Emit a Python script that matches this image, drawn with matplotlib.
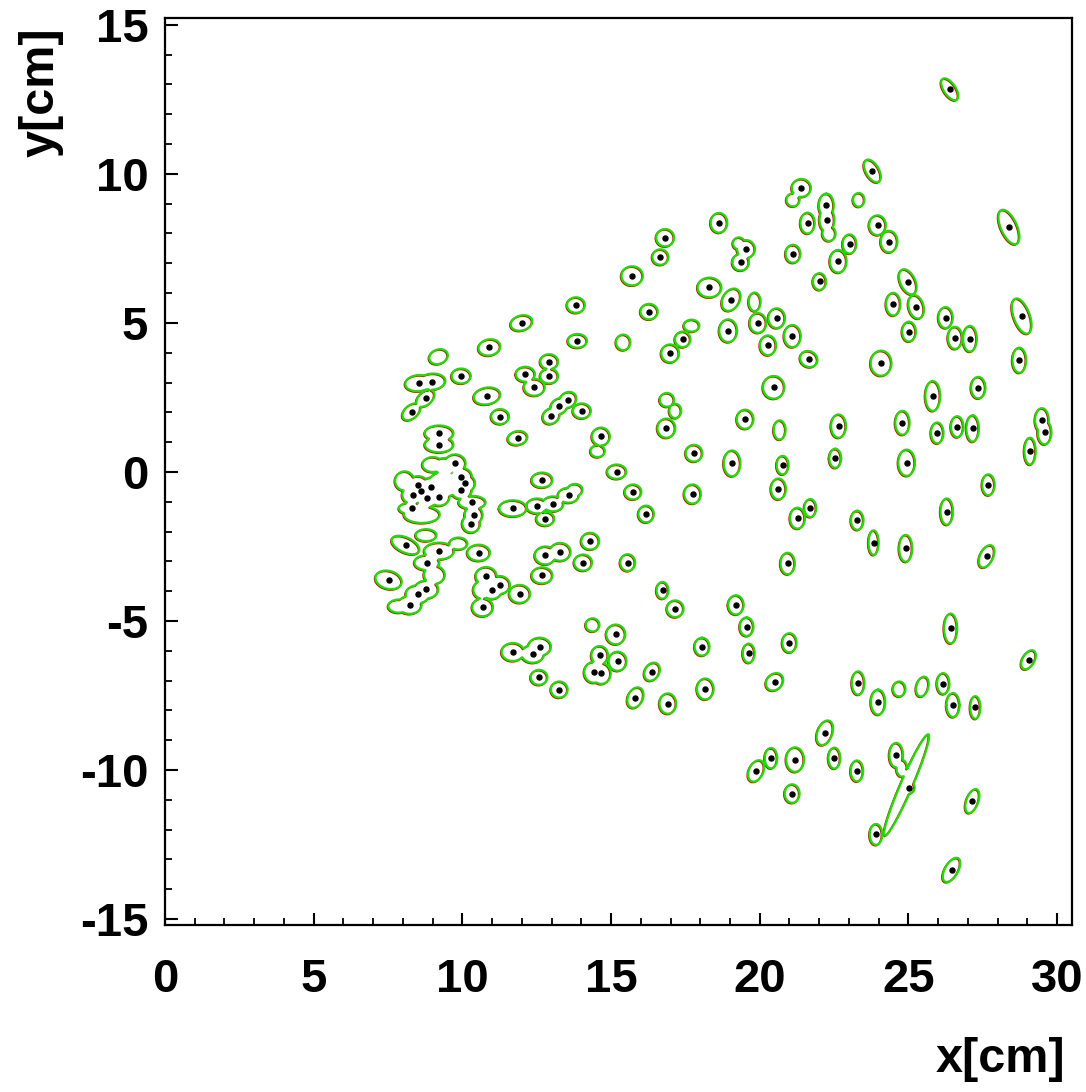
import numpy as np
import matplotlib
matplotlib.use("Agg")
import matplotlib.pyplot as plt
from matplotlib.ticker import MultipleLocator

# reconstructed cluster centres (black dots), in cm
dot_x = [26.39, 23.79, 21.40, 22.24, 22.26, 21.61, 23.96, 24.35, 19.54, 19.36,
         23.02, 21.12, 22.64, 28.38, 22.01, 24.98, 25.26, 24.49, 19.04, 18.94,
         19.94, 20.57, 21.10, 20.28, 26.25, 26.57, 27.07, 25.02, 28.81, 18.63,
         16.82, 16.66, 15.71, 18.31, 13.82, 16.28, 11.99, 13.87, 17.41, 10.91,
         9.96, 8.53, 8.98, 8.76, 8.29, 10.83, 11.27, 11.86, 9.22, 9.22,
         12.12, 12.92, 12.92, 12.42, 13.55, 13.26, 12.99, 14.02, 16.99, 16.86,
         14.66, 17.79, 15.19, 15.74, 16.18, 17.74, 12.68, 9.76, 9.97, 10.08,
         9.97, 8.51, 8.95, 8.62, 8.33, 8.81, 9.22, 10.33, 10.38, 10.30,
         8.29, 11.70, 12.51, 13.05, 13.57, 12.79, 14.30, 12.79, 13.29, 14.06,
         15.56, 12.68, 8.09, 9.22, 8.81, 10.55, 7.52, 8.79, 8.50, 8.23,
         10.80, 11.25, 10.99, 10.68, 11.93, 16.73, 17.16, 21.65, 24.08, 28.73,
         20.47, 25.82, 27.35, 19.51, 22.65, 24.80, 25.97, 26.64, 27.16, 29.49,
         29.58, 29.09, 19.07, 20.77, 22.54, 24.94, 20.63, 27.69, 21.27, 21.70,
         23.28, 26.29, 23.83, 24.91, 27.63, 20.94, 19.20, 19.56, 26.42, 15.16,
         18.06, 11.70, 12.37, 12.60, 12.58, 13.26, 14.62, 15.22, 14.42, 14.67,
         16.38, 15.82, 16.91, 18.17, 21.00, 19.63, 29.04, 20.50, 23.31, 23.98,
         26.17, 26.50, 27.25, 22.19, 20.38, 19.88, 21.19, 22.51, 23.27, 21.09,
         24.59, 25.01, 23.91, 27.15, 26.45]
dot_y = [12.84, 10.10, 9.53, 8.94, 8.46, 8.35, 8.28, 7.73, 7.48, 7.04,
         7.65, 7.32, 7.07, 8.22, 6.39, 6.38, 5.54, 5.63, 5.78, 4.74,
         5.00, 5.16, 4.56, 4.25, 5.18, 4.50, 4.47, 4.71, 5.23, 8.36,
         7.86, 7.21, 6.58, 6.19, 5.60, 5.38, 5.00, 4.40, 4.45, 4.18,
         3.22, 2.98, 3.03, 2.47, 2.02, 2.55, 1.86, 1.14, 1.30, 0.92,
         3.28, 3.70, 3.22, 2.84, 2.42, 2.21, 1.88, 2.05, 3.98, 1.47,
         1.19, 0.63, 0.01, -0.67, -1.41, -0.74, -0.27, 0.29, -0.16, -0.38,
         -0.60, -0.44, -0.49, -0.63, -0.77, -0.88, -0.83, -1.02, -1.44, -1.73,
         -1.22, -1.22, -1.14, -1.07, -0.78, -1.57, -2.32, -2.80, -2.68, -3.04,
         -3.04, -3.47, -2.45, -2.65, -3.04, -2.71, -3.62, -3.94, -4.10, -4.46,
         -3.49, -3.79, -3.96, -4.54, -4.09, -3.97, -4.59, 3.79, 3.65, 3.75,
         2.84, 2.55, 2.83, 1.77, 1.54, 1.65, 1.31, 1.52, 1.46, 1.74,
         1.33, 0.70, 0.29, 0.23, 0.46, 0.31, -0.57, -0.43, -1.55, -1.21,
         -1.62, -1.33, -2.37, -2.56, -2.83, -3.07, -4.46, -5.19, -5.25, -5.45,
         -5.86, -6.04, -6.10, -5.86, -6.89, -7.30, -6.15, -6.35, -6.72, -6.76,
         -6.70, -7.57, -7.77, -7.28, -5.73, -6.08, -6.30, -7.04, -7.08, -7.72,
         -7.10, -7.82, -7.90, -8.75, -9.60, -10.03, -9.65, -9.60, -10.03, -10.79,
         -9.50, -10.59, -12.16, -11.04, -13.35]
# cluster outline around each dot: semi axes (cm) and tilt (deg)
dot_rx = [0.42, 0.42, 0.32, 0.25, 0.25, 0.24, 0.28, 0.28, 0.30, 0.28,
          0.23, 0.25, 0.28, 0.62, 0.22, 0.45, 0.40, 0.24, 0.40, 0.30,
          0.28, 0.28, 0.28, 0.27, 0.24, 0.24, 0.23, 0.23, 0.62, 0.28,
          0.30, 0.27, 0.36, 0.40, 0.30, 0.29, 0.37, 0.32, 0.26, 0.37,
          0.32, 0.45, 0.45, 0.35, 0.35, 0.45, 0.30, 0.33, 0.48, 0.48,
          0.32, 0.30, 0.30, 0.35, 0.30, 0.30, 0.30, 0.30, 0.30, 0.30,
          0.30, 0.28, 0.32, 0.28, 0.26, 0.28, 0.35, 0.35, 0.35, 0.35,
          0.35, 0.35, 0.35, 0.35, 0.35, 0.35, 0.35, 0.45, 0.30, 0.30,
          0.42, 0.46, 0.35, 0.35, 0.35, 0.30, 0.30, 0.35, 0.35, 0.30,
          0.25, 0.35, 0.50, 0.50, 0.42, 0.38, 0.45, 0.40, 0.40, 0.40,
          0.35, 0.35, 0.35, 0.35, 0.35, 0.20, 0.28, 0.30, 0.35, 0.23,
          0.36, 0.25, 0.24, 0.28, 0.25, 0.24, 0.21, 0.21, 0.21, 0.23,
          0.23, 0.19, 0.28, 0.20, 0.20, 0.28, 0.25, 0.21, 0.25, 0.20,
          0.21, 0.21, 0.17, 0.22, 0.40, 0.24, 0.26, 0.23, 0.22, 0.32,
          0.25, 0.38, 0.38, 0.38, 0.28, 0.28, 0.28, 0.30, 0.32, 0.32,
          0.32, 0.36, 0.28, 0.28, 0.24, 0.20, 0.35, 0.32, 0.21, 0.24,
          0.21, 0.22, 0.17, 0.43, 0.21, 0.38, 0.30, 0.20, 0.21, 0.25,
          0.23, 0.20, 0.21, 0.42, 0.45]
dot_ry = [0.20, 0.22, 0.30, 0.40, 0.40, 0.35, 0.33, 0.36, 0.30, 0.28,
          0.32, 0.30, 0.38, 0.27, 0.28, 0.25, 0.25, 0.38, 0.28, 0.38,
          0.33, 0.33, 0.37, 0.33, 0.35, 0.37, 0.43, 0.33, 0.27, 0.33,
          0.29, 0.26, 0.32, 0.33, 0.26, 0.26, 0.25, 0.23, 0.26, 0.27,
          0.25, 0.27, 0.27, 0.22, 0.22, 0.28, 0.25, 0.23, 0.26, 0.26,
          0.25, 0.25, 0.25, 0.28, 0.25, 0.25, 0.25, 0.25, 0.30, 0.32,
          0.30, 0.28, 0.24, 0.25, 0.28, 0.32, 0.25, 0.30, 0.30, 0.30,
          0.30, 0.30, 0.30, 0.30, 0.30, 0.30, 0.30, 0.22, 0.30, 0.30,
          0.20, 0.27, 0.25, 0.25, 0.25, 0.23, 0.28, 0.30, 0.30, 0.27,
          0.28, 0.27, 0.25, 0.28, 0.25, 0.27, 0.30, 0.30, 0.30, 0.30,
          0.30, 0.30, 0.30, 0.30, 0.30, 0.28, 0.28, 0.26, 0.42, 0.42,
          0.38, 0.50, 0.36, 0.32, 0.39, 0.40, 0.35, 0.35, 0.44, 0.40,
          0.40, 0.45, 0.43, 0.31, 0.32, 0.44, 0.35, 0.35, 0.35, 0.30,
          0.32, 0.44, 0.41, 0.45, 0.22, 0.36, 0.32, 0.31, 0.50, 0.33,
          0.30, 0.30, 0.30, 0.30, 0.25, 0.27, 0.31, 0.32, 0.35, 0.35,
          0.24, 0.25, 0.34, 0.35, 0.32, 0.32, 0.20, 0.26, 0.39, 0.42,
          0.35, 0.40, 0.38, 0.25, 0.34, 0.24, 0.41, 0.35, 0.35, 0.31,
          0.41, 0.20, 0.35, 0.20, 0.22]
dot_tilt = [-56, -60, 0, 0, 0, 0, 0, 0, 0, 0,
            0, 0, 0, -66, 0, -65, -75, 0, 60, 0,
            0, 0, 0, 0, 0, 0, 0, 0, -70, 0,
            0, 0, 0, 0, 0, 0, 15, 0, 0, 10,
            0, 5, 5, 40, 40, 10, 0, 10, 0, 0,
            0, 0, 0, 0, 35, 35, 35, 0, 0, 0,
            0, 0, 0, 0, 0, 0, 0, 0, 0, 0,
            0, 0, 0, 0, 0, 0, 0, 0, 0, 0,
            0, 0, 0, 0, 0, 0, 0, 0, 0, 0,
            0, 0, -25, 0, 0, 0, -15, 0, 0, 0,
            0, 0, 0, 0, 0, 0, 0, -30, 0, 0,
            0, 0, 0, 0, 0, 0, 0, 0, 0, 0,
            0, 0, 0, 0, 0, 0, 0, 0, 0, 0,
            0, 0, 0, 0, 65, 0, 0, 0, 0, 0,
            0, 0, 0, 0, 0, 0, 0, 0, 0, 0,
            60, 65, 0, 0, 0, 0, 60, 45, 0, 0,
            0, 0, 0, 70, 0, 65, 0, 0, 0, 0,
            0, 0, 0, 70, 60]

# outlines that carry no reconstructed centre
free_x = [21.12, 22.33, 23.33, 19.30, 19.83, 15.41, 17.71, 9.20, 16.88, 17.16,
          14.55, 20.67, 8.06, 9.01, 9.41, 9.41, 8.64, 13.79, 8.78, 9.87,
          9.06, 7.86, 10.67, 14.38, 24.69, 25.47, 24.78, 24.94]
free_y = [9.13, 8.00, 9.13, 7.67, 5.71, 4.35, 4.91, 3.87, 2.42, 2.05,
          0.70, 1.41, -0.30, 0.25, 0.20, -0.40, -1.43, -0.60, -2.12, -2.40,
          -3.45, -4.50, -3.95, -5.13, -7.28, -7.20, -9.94, -10.50]
free_rx = [0.22, 0.22, 0.19, 0.20, 0.20, 0.24, 0.26, 0.32, 0.24, 0.20,
           0.24, 0.20, 0.32, 0.35, 0.38, 0.55, 0.60, 0.25, 0.35, 0.30,
           0.35, 0.35, 0.30, 0.23, 0.21, 0.34, 0.18, 1.85]
free_ry = [0.22, 0.25, 0.23, 0.20, 0.31, 0.26, 0.20, 0.24, 0.23, 0.24,
           0.20, 0.32, 0.32, 0.25, 0.27, 0.42, 0.28, 0.20, 0.20, 0.20,
           0.30, 0.22, 0.30, 0.22, 0.25, 0.20, 0.28, 0.20]
free_tilt = [0, 0, 0, 0, 0, 0, 0, 20, 0, 0,
             0, 0, 0, 0, 0, 0, 0, 0, 0, 0,
             0, 0, 0, 0, 0, 75, 0, 66.6]

x_lim = (0, 30.5)
y_lim = (-15.2, 15.23)


def outline_field(gx, gy, bx, by, brx, bry, btilt):
    # smallest normalised elliptic distance to any blob; level 1 = union outline
    X, Y = np.meshgrid(gx, gy)
    field = np.full(X.shape, 10.0)
    step = gx[1] - gx[0]
    for cx, cy, a, b, t in zip(bx, by, brx, bry, btilt):
        r = max(a, b) + 0.1
        i0 = max(int((cx - r - gx[0]) / step), 0)
        i1 = min(int((cx + r - gx[0]) / step) + 2, len(gx))
        j0 = max(int((cy - r - gy[0]) / step), 0)
        j1 = min(int((cy + r - gy[0]) / step) + 2, len(gy))
        dx = X[j0:j1, i0:i1] - cx
        dy = Y[j0:j1, i0:i1] - cy
        th = np.deg2rad(t)
        u = dx * np.cos(th) + dy * np.sin(th)
        v = -dx * np.sin(th) + dy * np.cos(th)
        d = (u / a) ** 2 + (v / b) ** 2
        field[j0:j1, i0:i1] = np.minimum(field[j0:j1, i0:i1], d)
    return X, Y, field


plt.rcParams['font.family'] = ['Liberation Sans', 'DejaVu Sans']
plt.rcParams['font.weight'] = 'bold'
plt.rcParams['axes.unicode_minus'] = False

fig = plt.figure(figsize=(10.86, 10.92), dpi=100)
ax = fig.add_axes([165 / 1086, 1 - 925 / 1092, 907 / 1086, 907 / 1092])

gx = np.arange(x_lim[0], x_lim[1] + 0.02, 0.02)
gy = np.arange(y_lim[0], y_lim[1] + 0.02, 0.02)
X, Y, field = outline_field(gx, gy,
                            dot_x + free_x, dot_y + free_y,
                            dot_rx + free_rx, dot_ry + free_ry,
                            dot_tilt + free_tilt)

ax.contour(X - 0.025, Y - 0.025, field, levels=[1.0], colors='#b01010', linewidths=1.4)
ax.contour(X, Y, field, levels=[1.0], colors='#22dd00', linewidths=1.6)
ax.plot(dot_x, dot_y, 'o', color='black', markersize=3.6, linestyle='none')

ax.set_xlim(*x_lim)
ax.set_ylim(*y_lim)
ax.xaxis.set_major_locator(MultipleLocator(5))
ax.xaxis.set_minor_locator(MultipleLocator(1))
ax.yaxis.set_major_locator(MultipleLocator(5))
ax.yaxis.set_minor_locator(MultipleLocator(1))
ax.tick_params(which='major', direction='in', length=9, width=1.5, labelsize=34)
ax.tick_params(which='minor', direction='in', length=5, width=1.3)
ax.tick_params(axis='x', which='major', pad=24)
ax.tick_params(axis='y', which='major', pad=12)
for s in ax.spines.values():
    s.set_linewidth(1.6)

fig.text(41 / 1086, 1 - 92 / 1092, 'y[cm]', rotation=90, ha='center', va='center',
         fontsize=35, fontweight='bold')
fig.text(1000 / 1086, 1 - 1060 / 1092, 'x[cm]', ha='center', va='center',
         fontsize=35, fontweight='bold')

fig.savefig('out.png', dpi=100)
